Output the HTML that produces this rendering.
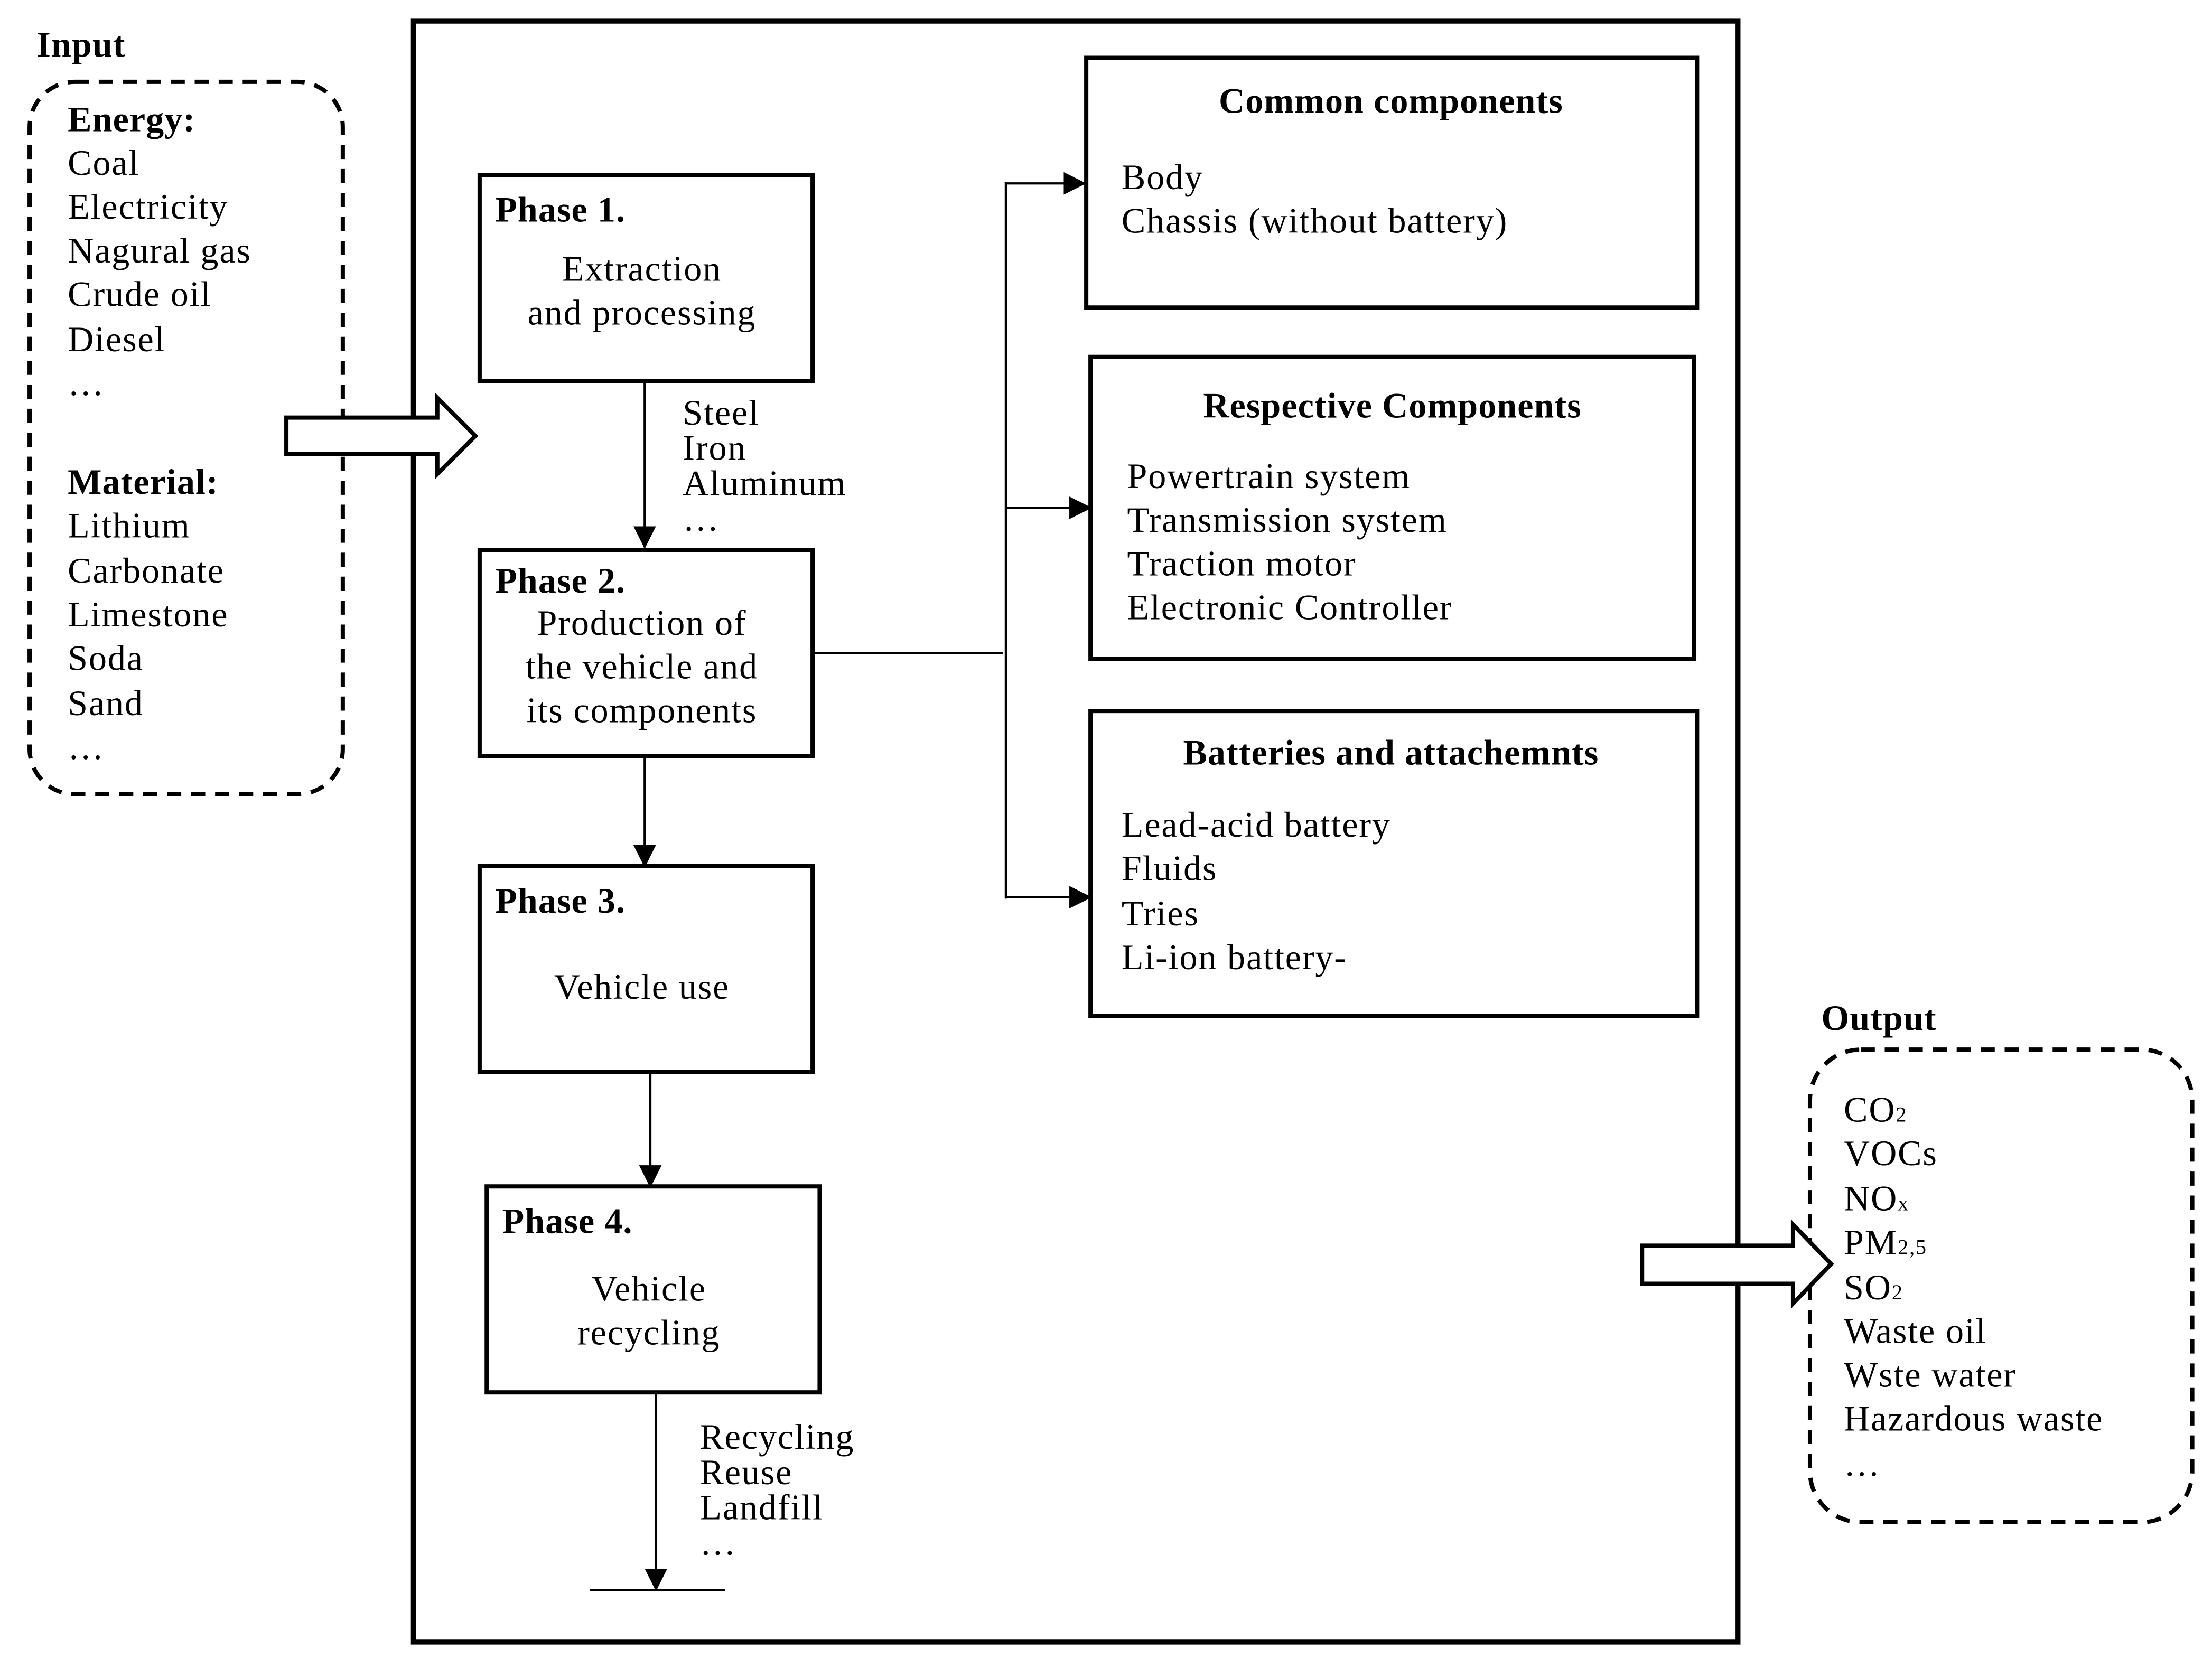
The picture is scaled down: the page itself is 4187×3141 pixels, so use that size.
<!DOCTYPE html>
<html><head><meta charset="utf-8"><style>
html,body{margin:0;padding:0;background:#fff;}
svg{display:block;}
text{font-family:"Liberation Serif",serif;font-size:25.5px;letter-spacing:0.7px;fill:#000;}
.b{font-weight:bold;letter-spacing:0.4px;}
</style></head><body>
<svg width="4187" height="3141" viewBox="0 0 1568 1176" preserveAspectRatio="none" xmlns="http://www.w3.org/2000/svg">
<defs>
<marker id="ah2" markerWidth="16" markerHeight="16" refX="15" refY="8" orient="auto" markerUnits="userSpaceOnUse"><path d="M0,0 L16,8 L0,16 z" fill="#000"/></marker></defs>
<rect x="293" y="15" width="939" height="1149" fill="none" stroke="#000" stroke-width="3.5"/>
<text x="26" y="40" class="b">Input</text>
<rect x="21" y="58" width="222" height="505" rx="32" fill="none" stroke="#000" stroke-width="3" stroke-dasharray="10,7"/>
<g>
<text x="48" y="93" class="b">Energy:</text>
<text x="48" y="124">Coal</text><text x="48" y="155">Electricity</text><text x="48" y="186">Nagural gas</text><text x="48" y="217">Crude oil</text><text x="48" y="249">Diesel</text><text x="48" y="280">…</text>
<text x="48" y="350" class="b">Material:</text>
<text x="48" y="381">Lithium</text><text x="48" y="413">Carbonate</text><text x="48" y="444">Limestone</text><text x="48" y="475">Soda</text><text x="48" y="507">Sand</text><text x="48" y="538">…</text>
</g>
<path d="M203,296 L310,296 L310,282 L337,309 L310,336 L310,322 L203,322 z" fill="#fff" stroke="#000" stroke-width="3"/>
<g fill="none" stroke="#000" stroke-width="3">
<rect x="340" y="124" width="236" height="146"/>
<rect x="340" y="390" width="236" height="146"/>
<rect x="340" y="614" width="236" height="146"/>
<rect x="345" y="841" width="236" height="146"/>
<rect x="770" y="41" width="433" height="177"/>
<rect x="773" y="253" width="428" height="214"/>
<rect x="773" y="504" width="430" height="216"/>
</g>
<text x="351" y="157" class="b">Phase 1.</text>
<text x="455" y="199" text-anchor="middle">Extraction</text>
<text x="455" y="230" text-anchor="middle">and processing</text>
<text x="351" y="420" class="b">Phase 2.</text>
<text x="455" y="450" text-anchor="middle">Production of</text>
<text x="455" y="481" text-anchor="middle">the vehicle and</text>
<text x="455" y="512" text-anchor="middle">its components</text>
<text x="351" y="647" class="b">Phase 3.</text>
<text x="455" y="708" text-anchor="middle">Vehicle use</text>
<text x="356" y="874" class="b">Phase 4.</text>
<text x="460" y="922" text-anchor="middle">Vehicle</text>
<text x="460" y="953" text-anchor="middle">recycling</text>
<g stroke="#000" stroke-width="1.6" fill="none">
<line x1="457" y1="270" x2="457" y2="388" marker-end="url(#ah2)"/>
<line x1="457" y1="536" x2="457" y2="614" marker-end="url(#ah2)"/>
<line x1="461" y1="760" x2="461" y2="841" marker-end="url(#ah2)"/>
<line x1="465" y1="987" x2="465" y2="1127" marker-end="url(#ah2)"/>
<line x1="418" y1="1127" x2="514" y2="1127"/>
<line x1="576" y1="463" x2="711" y2="463"/>
<line x1="713" y1="129" x2="713" y2="637"/>
<line x1="713" y1="130" x2="769" y2="130" marker-end="url(#ah2)"/>
<line x1="713" y1="360" x2="773" y2="360" marker-end="url(#ah2)"/>
<line x1="713" y1="636" x2="773" y2="636" marker-end="url(#ah2)"/>
</g>
<text x="484" y="301">Steel</text><text x="484" y="326">Iron</text><text x="484" y="351">Aluminum</text><text x="484" y="376">…</text>
<text x="496" y="1027">Recycling</text><text x="496" y="1052">Reuse</text><text x="496" y="1077">Landfill</text><text x="496" y="1102">…</text>
<text x="986" y="80" class="b" text-anchor="middle">Common components</text>
<text x="795" y="134">Body</text><text x="795" y="165">Chassis (without battery)</text>
<text x="987" y="296" class="b" text-anchor="middle">Respective Components</text>
<text x="799" y="346">Powertrain system</text><text x="799" y="377">Transmission system</text><text x="799" y="408">Traction motor</text><text x="799" y="439">Electronic Controller</text>
<text x="986" y="542" class="b" text-anchor="middle">Batteries and attachemnts</text>
<text x="795" y="593">Lead-acid battery</text><text x="795" y="624">Fluids</text><text x="795" y="656">Tries</text><text x="795" y="687">Li-ion battery-</text>
<text x="1291" y="730" class="b">Output</text>
<rect x="1283" y="744" width="271" height="335" rx="36" fill="none" stroke="#000" stroke-width="3" stroke-dasharray="10,7"/>
<path d="M1164,883 L1271,883 L1271,868 L1298,896 L1271,924 L1271,910 L1164,910 z" fill="#fff" stroke="#000" stroke-width="3"/>
<text x="1307" y="795">CO<tspan font-size="15">2</tspan></text>
<text x="1307" y="826">VOCs</text>
<text x="1307" y="858">NO<tspan font-size="15">x</tspan></text>
<text x="1307" y="889">PM<tspan font-size="15">2,5</tspan></text>
<text x="1307" y="921">SO<tspan font-size="15">2</tspan></text>
<text x="1307" y="952">Waste oil</text><text x="1307" y="983">Wste water</text><text x="1307" y="1014">Hazardous waste</text><text x="1307" y="1046">…</text>
</svg>
</body></html>
